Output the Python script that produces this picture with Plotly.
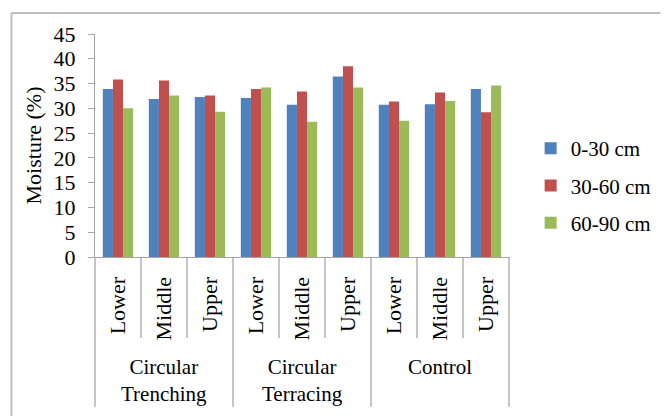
import plotly.graph_objects as go

# Soil moisture by slope position, treatment and soil depth
groups = ["Circular<br>Trenching", "Circular<br>Terracing", "Control"]
positions = ["Lower", "Middle", "Upper"]
depths = ["0-30 cm", "30-60 cm", "60-90 cm"]

moist_0_30 = [33.9, 31.9, 32.3, 32.1, 30.7, 36.4, 30.7, 30.8, 33.9]
moist_30_60 = [35.8, 35.6, 32.6, 33.9, 33.4, 38.5, 31.4, 33.2, 29.2]
moist_60_90 = [30.0, 32.6, 29.3, 34.2, 27.3, 34.2, 27.5, 31.5, 34.6]

colors = ["#4F81BD", "#C0504D", "#9BBB59"]
series = [moist_0_30, moist_30_60, moist_60_90]

W, H = 668, 416
ML, MR, MT, MB = 95, 152, 34, 159
PW, PH = W - ML - MR, H - MT - MB
SERIF = "Liberation Serif, Times New Roman, serif"
TEXT = "#000"
GRID = "#a6a6a6"


def px_x(px):
    return (px - ML) / PW


def px_y(py):
    return (H - MB - py) / PH


labels = [p for _ in groups for p in positions]
idx = list(range(len(labels)))

fig = go.Figure()
for name, vals, col in zip(depths, series, colors):
    fig.add_trace(go.Bar(
        x=idx, y=vals, name=name, legendgroup=name,
        marker=dict(color=col, line=dict(width=0)),
    ))

shapes = []
n = len(labels)
for b in range(n + 1):
    outer = b % len(positions) == 0
    shapes.append(dict(
        type="line", xref="paper", yref="paper",
        x0=b / n, x1=b / n, y0=0, y1=px_y(407 if outer else 338),
        line=dict(color=GRID, width=1.3),
    ))

# frame edges
shapes.append(dict(type="line", xref="paper", yref="paper",
                   x0=px_x(10), x1=px_x(W + 2), y0=px_y(13), y1=px_y(13),
                   line=dict(color="#bfbfbf", width=2)))
shapes.append(dict(type="line", xref="paper", yref="paper",
                   x0=px_x(10), x1=px_x(10), y0=px_y(13), y1=px_y(H + 2),
                   line=dict(color="#bfbfbf", width=2)))

annotations = []
for g, name in enumerate(groups):
    center = g * len(positions) + (len(positions) - 1) / 2
    annotations.append(dict(
        x=center, xref="x", y=px_y(353), yref="paper", yanchor="top",
        text=name, showarrow=False, align="center",
        font=dict(family=SERIF, size=21, color=TEXT),
    ))

fig.update_layout(
    width=W, height=H,
    margin=dict(l=ML, r=MR, t=MT, b=MB, pad=0),
    paper_bgcolor="white", plot_bgcolor="white",
    barmode="group", bargap=0.34, bargroupgap=0,
    shapes=shapes, annotations=annotations,
    legend=dict(
        x=px_x(538), y=px_y(128), xanchor="left", yanchor="top",
        font=dict(family=SERIF, size=21, color=TEXT),
        tracegroupgap=7, itemwidth=30, bgcolor="rgba(0,0,0,0)",
    ),
    xaxis=dict(
        range=[-0.5, n - 0.5], tickmode="array", tickvals=idx, ticktext=labels,
        tickangle=-90, ticks="", showline=True, linecolor=GRID, linewidth=1.3,
        showgrid=False, zeroline=False, ticklabelstandoff=10,
        tickfont=dict(family=SERIF, size=22, color=TEXT),
    ),
    yaxis=dict(
        range=[0, 45], dtick=5, tick0=0, ticks="outside", ticklen=6,
        tickcolor=GRID, showline=True, linecolor=GRID, linewidth=1.3,
        showgrid=False, zeroline=False, ticklabelstandoff=8,
        tickfont=dict(family=SERIF, size=22, color=TEXT),
        title=dict(text="Moisture (%)", standoff=5,
                   font=dict(family=SERIF, size=22, color=TEXT)),
    ),
)

fig.write_html("out.html")
